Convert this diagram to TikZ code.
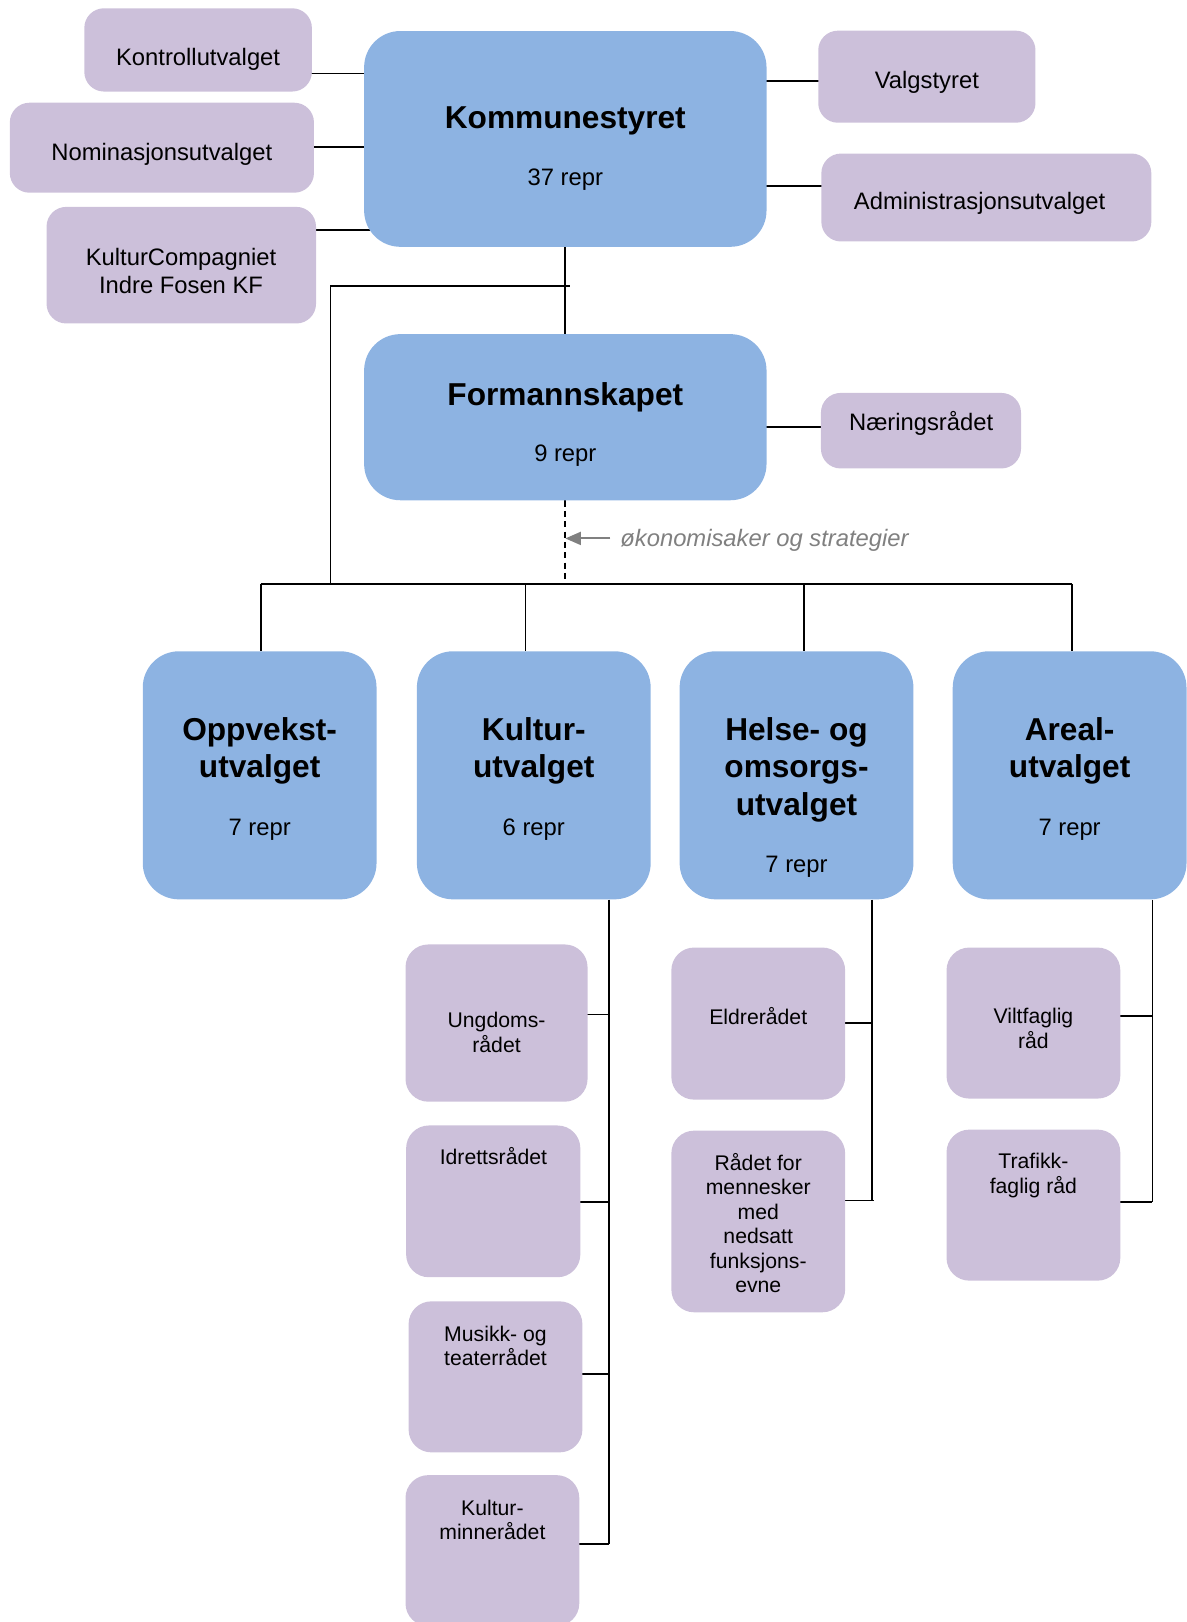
\documentclass[tikz,border=0pt]{standalone}
\usepackage{fontspec}
\setmainfont{Liberation Sans}
\usetikzlibrary{arrows.meta}
\pgfdeclarelayer{background}
\pgfsetlayers{background,main}
\definecolor{boxblue}{RGB}{141,179,226}
\definecolor{boxlilac}{RGB}{204,192,218}
\definecolor{notegray}{RGB}{128,128,128}
\begin{document}
\begin{tikzpicture}[x=1pt,y=-1pt,
  bigbox/.style={draw=none, fill=boxblue, rounded corners=35pt, inner sep=0pt, rectangle},
  topbox/.style={draw=none, fill=boxlilac, rounded corners=19pt, inner sep=0pt, rectangle},
  subbox/.style={draw=none, fill=boxlilac, rounded corners=22pt, inner sep=0pt, rectangle},
  conn/.style={draw=black, line width=1.7pt},
  titletext/.style={font=\fontsize{30.6}{36}\selectfont\bfseries, anchor=base, inner sep=0pt},
  normtext/.style={font=\fontsize{23}{27}\selectfont, anchor=base, inner sep=0pt},
  subtext/.style={font=\fontsize{20.5}{24}\selectfont, anchor=base, inner sep=0pt},
  notetext/.style={font=\fontsize{23}{27}\selectfont\itshape, text=notegray, anchor=base west, inner sep=0pt},
  notearrow/.style={draw=notegray, line width=2pt, -{Triangle[length=15pt,width=12.5pt]}},
]
\useasboundingbox (0,0) rectangle (1147,1568);

% ---- top level boxes
\node[topbox, minimum width=220pt, minimum height=80.5pt] (kontroll) at (191.5,48.25) {};
\node[topbox, minimum width=294pt, minimum height=87pt] (nomin) at (156.5,142.8) {};
\node[topbox, minimum width=260.5pt, minimum height=112.7pt] (kultcomp) at (175.25,256.35) {};
\node[bigbox, minimum width=389pt, minimum height=208.6pt] (ks) at (546.5,134.3) {};
\node[topbox, minimum width=210pt, minimum height=89pt] (valg) at (896,74.15) {};
\node[topbox, minimum width=319pt, minimum height=85pt] (admin) at (953.5,190.95) {};
\node[bigbox, minimum width=389pt, minimum height=160.6pt] (fs) at (546.5,403.3) {};
\node[topbox, minimum width=193.4pt, minimum height=73pt] (naer) at (890.3,416.35) {};

% ---- committees
\node[bigbox, minimum width=226pt, minimum height=239.8pt] (opp) at (251,749.5) {};
\node[bigbox, minimum width=226pt, minimum height=239.8pt] (kul) at (516,749.5) {};
\node[bigbox, minimum width=226pt, minimum height=239.8pt] (hel) at (770,749.5) {};
\node[bigbox, minimum width=226pt, minimum height=239.8pt] (are) at (1034,749.5) {};

% ---- councils
\node[subbox, minimum width=176pt, minimum height=152pt] (ung) at (480,989) {};
\node[subbox, minimum width=168.4pt, minimum height=146.7pt] (idr) at (476.8,1161.35) {};
\node[subbox, minimum width=168pt, minimum height=146pt] (mus) at (479,1331) {};
\begin{scope}
\clip (0,0) rectangle (1147,1568);
\node[subbox, minimum width=168pt, minimum height=146pt] (kmi) at (476,1499) {};
\end{scope}
\node[subbox, minimum width=168pt, minimum height=147pt] (eld) at (733,989.5) {};
\node[subbox, minimum width=168pt, minimum height=175.6pt] (rad) at (733,1180.8) {};
\node[subbox, minimum width=168pt, minimum height=146pt] (vil) at (999,989) {};
\node[subbox, minimum width=168pt, minimum height=146pt] (tra) at (999,1165) {};

% ---- texts
\node[normtext] (kontroll-t) at (191.5,63.5) {Kontrollutvalget};
\node[normtext] (nomin-t) at (156.5,155) {Nominasjonsutvalget};
\node[normtext] (kultcomp-t1) at (175,256.5) {KulturCompagniet};
\node[normtext] (kultcomp-t2) at (175,283.5) {Indre Fosen KF};
\node[titletext] (ks-t) at (546.5,124) {Kommunestyret};
\node[normtext] (ks-r) at (546.5,179.6) {37 repr};
\node[normtext] (valg-t) at (896,85.4) {Valgstyret};
\node[normtext] (admin-t) at (947,203) {Administrasjonsutvalget};
\node[titletext] (fs-t) at (546.5,391.7) {Formannskapet};
\node[normtext] (fs-r) at (546.5,446.5) {9 repr};
\node[normtext] (naer-t) at (890.5,416) {Næringsrådet};
\node[notetext] (oko) at (599.5,528.7) {økonomisaker og strategier};

\foreach \t [count=\i from 0] in {Oppvekst-,utvalget}
  \node[titletext] (opp-t\i) at (251,716+36*\i) {\t};
\node[normtext] (opp-r) at (251,807.6) {7 repr};
\foreach \t [count=\i from 0] in {Kultur-,utvalget}
  \node[titletext] (kul-t\i) at (516,716+36*\i) {\t};
\node[normtext] (kul-r) at (516,807.6) {6 repr};
\foreach \t [count=\i from 0] in {Helse- og,omsorgs-,utvalget}
  \node[titletext] (hel-t\i) at (770,716+36*\i) {\t};
\node[normtext] (hel-r) at (770,843.5) {7 repr};
\foreach \t [count=\i from 0] in {Areal-,utvalget}
  \node[titletext] (are-t\i) at (1034,716+36*\i) {\t};
\node[normtext] (are-r) at (1034,807.6) {7 repr};

\foreach \t [count=\i from 0] in {Ungdoms-,rådet}
  \node[subtext] (ung-t\i) at (480,993+24*\i) {\t};
\node[subtext] (idr-t) at (477,1126) {Idrettsrådet};
\foreach \t [count=\i from 0] in {Musikk- og,teaterrådet}
  \node[subtext] (mus-t\i) at (479,1296.5+23.6*\i) {\t};
\foreach \t [count=\i from 0] in {Kultur-,minnerådet}
  \node[subtext] (kmi-t\i) at (476,1465+23.6*\i) {\t};
\node[subtext] (eld-t) at (733,990) {Eldrerådet};
\foreach \t [count=\i from 0] in {Rådet for,mennesker,med,nedsatt,funksjons-,evne}
  \node[subtext] (rad-t\i) at (733,1131.6+23.6*\i) {\t};
\foreach \t [count=\i from 0] in {Viltfaglig,råd}
  \node[subtext] (vil-t\i) at (999,989.5+24*\i) {\t};
\foreach \t [count=\i from 0] in {Trafikk-,faglig råd}
  \node[subtext] (tra-t\i) at (999,1129.5+24*\i) {\t};

% ---- coordinates for junctions
\coordinate (j) at (550.6,276.3);
\coordinate (jL) at (319.5,276.3);
\coordinate (busL) at (252,564.5);
\coordinate (busR) at (1036,564.5);
\coordinate (b2) at (508,564.5);
\coordinate (b3) at (777,564.5);
\coordinate (kbus) at (589,1492.6);
\coordinate (hbus) at (843,1160.5);
\coordinate (abus) at (1114,1162);
\coordinate (atail) at (590,520.5);

% ---- connectors
\begin{pgfonlayer}{background}
\draw[conn] (kontroll.center |- 0,71) -- (ks.center |- 0,71);
\draw[conn] (nomin.center |- 0,142) -- (ks.center |- 0,142);
\draw[conn] (kultcomp.center |- 0,222.4) -- (ks.center |- 0,222.4);
\draw[conn] (ks.center |- 0,78) -- (valg.center |- 0,78);
\draw[conn] (ks.center |- 0,179.6) -- (admin.center |- 0,179.6);
\draw[conn] (fs.center |- 0,412.7) -- (naer.center |- 0,412.7);
\draw[conn] (ks.south) -- (fs.north);
\draw[conn] (j) -- (jL) -- (jL |- busL);
\draw[conn] (busL) -- (busR);
\draw[conn] (busL) -- (busL |- opp.north);
\draw[conn] (b2) -- (b2 |- kul.north);
\draw[conn] (b3) -- (b3 |- hel.north);
\draw[conn] (busR) -- (busR |- are.north);
\draw[conn, dash pattern=on 6pt off 4pt] (fs.south) -- (fs.south |- busL);
\draw[conn] (kul.south -| kbus) -- (kbus);
\draw[conn] (ung.center |- 0,980.6) -- (kbus |- 0,980.6);
\draw[conn] (idr.center |- 0,1162) -- (kbus |- 0,1162);
\draw[conn] (mus.center |- 0,1328) -- (kbus |- 0,1328);
\draw[conn] (kmi.center |- kbus) -- (kbus);
\draw[conn] (hel.south -| hbus) -- (hbus);
\draw[conn] (eld.center |- 0,989) -- (hbus |- 0,989);
\draw[conn] (rad.center |- hbus) -- ([xshift=2pt]hbus);
\draw[conn] (are.south -| abus) -- (abus);
\draw[conn] (vil.center |- 0,982) -- (abus |- 0,982);
\draw[conn] (tra.center |- abus) -- (abus);
\end{pgfonlayer}
\draw[notearrow] (atail) -- (atail -| fs.south);
\end{tikzpicture}
\end{document}
